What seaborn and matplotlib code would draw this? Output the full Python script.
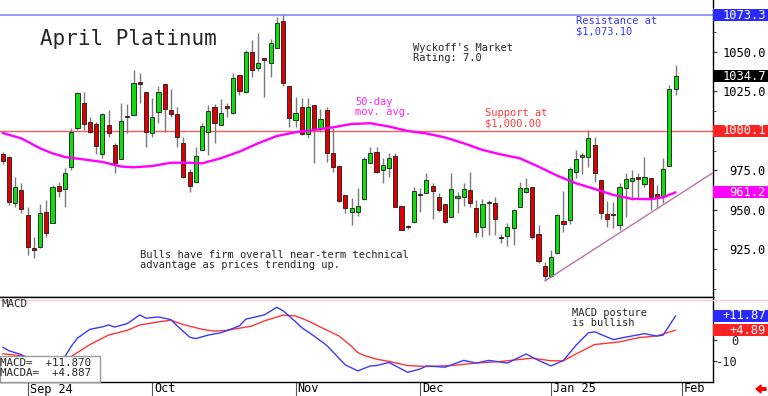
import matplotlib
matplotlib.use("Agg")
import matplotlib.pyplot as plt
import matplotlib.transforms as mtransforms
from matplotlib.patches import Rectangle, FancyArrow
import numpy as np
import pandas as pd
import seaborn as sns

# daily candles, Aug 27 2024 .. Jan 31 2025 (trading-day index 0..108)
opens = [985.4, 983.5, 954.4, 962.7, 947.0, 926.0, 926.6, 948.7, 941.8, 965.0,
         963.0, 977.0, 1002.0, 1017.7, 1005.7, 1004.4, 985.4, 1003.8, 991.0, 982.0,
         1009.5, 1010.0, 1031.0, 1024.7, 998.7, 1012.0, 1029.7, 1013.0, 1010.8, 992.4,
         974.0, 967.7, 988.0, 999.4, 1015.0, 1003.8, 1015.8, 1011.4, 1035.4, 1024.7,
         1050.0, 1040.0, 1046.0, 1043.0, 1052.5, 1069.6, 1028.5, 1007.0, 1015.0, 998.0,
         1016.5, 1002.0, 1013.0, 986.0, 977.8, 959.5, 948.7, 948.7, 957.0, 980.0,
         986.7, 975.3, 976.6, 984.0, 952.5, 940.0, 942.4, 959.5, 960.8, 965.0,
         958.0, 953.8, 945.6, 957.6, 958.0, 962.7, 951.3, 939.3, 954.4, 954.4,
         933.0, 933.5, 938.6, 952.0, 961.2, 964.6, 934.8, 914.6, 908.2, 922.8,
         943.0, 943.7, 974.0, 983.5, 983.5, 991.0, 969.0, 947.5, 947.5, 940.5,
         964.0, 968.4, 971.0, 966.5, 970.2, 960.0, 958.8, 977.8, 1026.6]
highs = [986.7, 984.0, 971.0, 967.0, 952.0, 933.0, 954.0, 956.0, 965.8, 967.7,
         976.6, 1002.0, 1024.7, 1024.7, 1009.0, 1005.7, 1011.4, 1013.0, 992.4, 1017.7,
         1017.0, 1038.6, 1037.0, 1024.7, 1021.0, 1028.5, 1029.7, 1026.6, 1015.0, 996.0,
         976.0, 990.0, 1005.0, 1016.5, 1017.0, 1020.0, 1018.0, 1036.7, 1035.4, 1051.0,
         1057.6, 1062.0, 1046.0, 1058.0, 1072.0, 1073.4, 1028.5, 1021.5, 1021.0, 1021.0,
         1016.5, 1014.0, 1015.0, 1002.0, 977.8, 959.5, 957.6, 964.0, 983.5, 990.0,
         990.0, 983.0, 986.0, 986.0, 952.5, 940.5, 964.6, 964.0, 973.4, 967.0,
         960.8, 953.8, 973.4, 961.4, 967.0, 974.0, 956.3, 957.0, 956.0, 958.0,
         935.0, 941.8, 950.6, 967.7, 970.0, 964.6, 940.5, 917.0, 924.7, 947.5,
         962.0, 977.0, 988.0, 986.0, 1000.6, 996.0, 969.0, 955.7, 955.0, 967.0,
         973.4, 975.3, 973.4, 983.5, 970.2, 965.8, 983.0, 1029.0, 1041.8]
lows = [979.0, 953.0, 952.0, 948.0, 921.5, 919.6, 926.0, 933.0, 941.8, 958.0,
        952.0, 975.0, 1000.6, 1000.6, 998.7, 985.4, 983.0, 996.0, 973.4, 982.0,
        998.7, 1010.0, 1017.7, 990.0, 996.0, 1005.0, 999.4, 1009.0, 990.0, 970.0,
        961.4, 967.7, 988.0, 985.0, 992.4, 1003.8, 1009.0, 1010.8, 1022.8, 1024.0,
        1034.0, 1038.0, 1021.5, 1034.0, 1052.5, 1028.5, 1002.5, 1002.5, 997.5, 995.6,
        979.7, 999.4, 980.4, 974.0, 955.0, 948.0, 940.5, 946.0, 956.0, 979.7,
        973.4, 967.0, 971.0, 952.0, 937.0, 938.0, 941.8, 948.7, 960.8, 944.0,
        948.7, 942.0, 945.6, 948.0, 952.5, 952.0, 933.0, 933.0, 934.0, 934.0,
        929.0, 927.0, 927.8, 952.0, 961.0, 931.6, 916.5, 905.7, 907.6, 922.8,
        936.0, 941.0, 970.0, 973.0, 977.0, 967.7, 944.3, 939.3, 938.6, 937.3,
        945.6, 956.3, 957.0, 964.6, 950.0, 951.3, 954.4, 977.8, 1022.8]
closes = [981.0, 955.0, 964.6, 950.6, 926.6, 924.7, 948.0, 935.4, 964.6, 962.0,
          973.4, 999.4, 1024.0, 1004.4, 999.4, 990.5, 1010.8, 998.7, 979.7, 1006.0,
          1008.9, 1030.4, 1029.7, 999.4, 1008.9, 1024.7, 1014.0, 1010.8, 996.0, 971.0,
          965.0, 984.0, 1003.0, 1012.7, 1005.0, 1011.4, 1014.5, 1033.5, 1025.3, 1050.0,
          1038.6, 1043.0, 1045.0, 1055.7, 1068.4, 1030.4, 1008.2, 1011.4, 998.0, 1015.0,
          1000.6, 1007.6, 986.0, 977.0, 955.7, 951.3, 951.3, 952.5, 982.0, 986.0,
          974.0, 978.5, 983.0, 952.0, 937.3, 939.3, 962.0, 959.8, 969.0, 962.0,
          950.0, 942.4, 963.3, 959.0, 963.3, 954.4, 936.0, 953.8, 954.6, 944.3,
          932.3, 939.3, 950.0, 964.0, 964.0, 933.0, 917.7, 908.2, 920.2, 946.8,
          941.0, 976.0, 982.0, 984.5, 995.6, 973.4, 948.0, 944.3, 946.8, 964.6,
          969.6, 970.2, 969.6, 971.0, 958.0, 958.0, 976.0, 1026.6, 1034.7]

# 50-day moving average, read at sampled days
ma_days = [0, 3, 6, 8, 10, 13, 16, 19, 21, 24, 27, 30, 32, 35, 38, 41, 44, 47, 50,
           53, 56, 59, 62, 65, 68, 71, 74, 77, 80, 83, 86, 89, 92, 95, 98, 101,
           104, 106, 108]
ma_values = [998.7, 995.3, 989.0, 985.8, 983.5, 982.0, 980.4, 977.5, 977.0, 977.8,
             979.9, 979.9, 979.5, 982.7, 986.9, 992.2, 996.8, 999.2, 1000.6, 1002.3,
             1004.4, 1004.9, 1002.8, 1000.0, 998.4, 995.9, 992.2, 988.0, 985.1, 982.7,
             977.4, 971.7, 966.9, 963.3, 959.5, 957.0, 956.8, 958.0, 961.2]

# MACD (blue) and its average (red)
macd_days = [0, 1, 3, 5, 7, 9, 10, 11, 12, 14, 16, 17, 18, 20, 22, 23, 25, 27, 28,
             30, 31, 33, 35, 37, 38, 39, 42, 44, 45, 47, 48, 50, 52, 55, 57, 59, 60,
             62, 65, 67, 68, 71, 74, 76, 78, 81, 84, 86, 88, 90, 92, 94, 95, 98, 100,
             103, 105, 106, 108]
macd_values = [-3.4, -5.1, -7.0, -11.0, -13.0, -11.0, -7.9, -3.0, 1.0, 5.3, 6.5, 7.4,
               6.4, 8.1, 12.3, 10.7, 11.3, 10.0, 7.0, 1.5, 0.8, 2.5, 3.6, 5.8, 7.0,
               10.2, 12.3, 16.0, 14.3, 9.0, 6.1, 2.0, -2.5, -12.0, -14.9, -12.5, -12.3,
               -10.8, -15.6, -14.0, -12.5, -13.1, -9.8, -11.1, -9.8, -11.1, -6.7, -9.8,
               -12.5, -9.8, -2.5, 3.6, 4.1, 0.3, 1.5, 3.2, 2.0, 2.5, 11.87]
signal_days = [0, 3, 6, 9, 11, 14, 17, 20, 22, 25, 27, 29, 32, 34, 36, 40, 42, 45, 47,
               49, 51, 54, 56, 57, 58, 60, 62, 65, 68, 72, 76, 80, 85, 88, 90, 92, 95,
               99, 102, 105, 108]
signal_values = [-6.6, -7.5, -9.0, -9.0, -7.9, -2.1, 2.5, 4.8, 7.4, 8.9, 9.7, 7.6, 5.3,
                 4.4, 4.8, 6.9, 9.4, 12.2, 11.8, 9.4, 6.4, 2.0, -3.0, -6.0, -7.4, -9.2,
                 -10.3, -12.3, -12.8, -12.3, -11.1, -10.3, -8.7, -10.0, -10.0, -6.7,
                 -2.1, -0.8, 1.2, 2.1, 4.887]
macd_last = 11.870

month_days = [4, 24, 47, 67, 88, 109]
month_labels = ["Sep 24", "Oct", "Nov", "Dec", "Jan 25", "Feb"]
price_ticks = [925, 950, 975, 1025, 1050]
macd_ticks = [-10, 0, 10]
macd_tick_labels = ["-10", "0", ""]

support = 1000.0
resistance = 1073.3
trend_days = [87, 114]
trend_values = [905.0, 973.6]

sns.set_theme(style="white")
plt.rcParams["font.family"] = ["DejaVu Sans Mono", "DejaVu Sans"]

W, H = 768, 396
fig = plt.figure(figsize=(W / 100, H / 100), dpi=100)


def fx(px):
    return px / W


def fy(py):
    return 1 - py / H


ax = fig.add_axes([0, fy(297), fx(713), 297 / H])
axm = fig.add_axes([0, fy(382), fx(713), 85 / H])

candles = pd.DataFrame({"day": np.arange(len(opens)), "open": opens, "high": highs,
                        "low": lows, "close": closes})
up = candles["close"] >= candles["open"]
body_lo = candles[["open", "close"]].min(axis=1)
body_h = (candles["close"] - candles["open"]).abs().clip(lower=0.7)

ax.axhline(resistance, color="#9a9af5", lw=1.4, zorder=1)
ax.axhline(support, color="#ff5a5a", lw=1.0, zorder=1)
ax.vlines(candles["day"], candles["low"], candles["high"], color="#7a7a7a", lw=1.0, zorder=2)
ax.bar(candles["day"], body_h, bottom=body_lo, width=0.66,
       color=np.where(up, "#10dc10", "#dc0000"), edgecolor="#1a1a1a", linewidth=0.6, zorder=3)
sns.lineplot(x=ma_days, y=ma_values, ax=ax, color="#ff00ff", linewidth=1.7, zorder=4)
ax.plot(trend_days, trend_values, color="#b8739f", lw=1.0, zorder=4)

ax.set_xlim(-0.43, 114.0)
ax.set_ylim(894.9, 1082.9)
ax.set_xticks([])
ax.yaxis.tick_right()
ax.set_yticks(price_ticks)
ax.set_yticklabels([f"{v:.1f}" for v in price_ticks])
ax.set_yticks(np.arange(900, 1081, 12.5), minor=True)
ax.tick_params(axis="y", which="major", direction="out", length=3, width=0.8,
               color="#333333", pad=35, labelsize=8.7, labelcolor="black", right=True)
ax.tick_params(axis="y", which="minor", direction="out", length=2, width=0.6,
               color="#333333", right=True)
for t in ax.get_yticklabels():
    t.set_horizontalalignment("right")
for s in ["left", "top"]:
    ax.spines[s].set_visible(False)
for s in ["right", "bottom"]:
    ax.spines[s].set_color("black")
    ax.spines[s].set_linewidth(1.0)
ax.set_xlabel("")
ax.set_ylabel("")

# MACD panel
sns.lineplot(x=signal_days, y=signal_values, ax=axm, color="#ff3535", linewidth=1.0)
sns.lineplot(x=macd_days, y=macd_values, ax=axm, color="#3a3aff", linewidth=1.0)
axm.set_xlim(-0.43, 114.0)
axm.set_ylim(-20.3, 21.0)
axm.set_xticks(month_days)
axm.set_xticklabels([])
axm.tick_params(axis="x", direction="out", length=10, width=0.8, color="#555555", bottom=True)
axm.yaxis.tick_right()
axm.set_yticks(macd_ticks)
axm.set_yticklabels(macd_tick_labels)
axm.tick_params(axis="y", direction="out", length=3, width=0.8, color="#333333",
                pad=15, labelsize=8.7, right=True)
for t in axm.get_yticklabels():
    t.set_horizontalalignment("right")
axm.spines["left"].set_visible(False)
for s in ["right", "bottom", "top"]:
    axm.spines[s].set_color("black")
    axm.spines[s].set_linewidth(1.0)
axm.set_xlabel("")
axm.set_ylabel("")

xlab = mtransforms.blended_transform_factory(axm.transData, fig.transFigure)
for d, lab in zip(month_days, month_labels):
    axm.text(d + 0.35, fy(389), lab, transform=xlab, ha="left", va="center",
             fontsize=8.6, color="black", clip_on=False)

fig.add_artist(plt.Line2D([0, 1], [fy(300), fy(300)], transform=fig.transFigure,
                          color="#ffc8c8", lw=1.0))


# right-hand value boxes
def value_box(axis, value, text, color, h):
    tr = mtransforms.blended_transform_factory(fig.transFigure, axis.transData)
    fig.add_artist(Rectangle((fx(713), value - h / 2), 1 - fx(713), h, transform=tr,
                             facecolor=color, edgecolor="none", zorder=5))
    fig.text(fx(766), value, text, transform=tr, ha="right", va="center",
             color="white", fontsize=8.7, zorder=6)


value_box(ax, resistance, "1073.3", "#2a2aff", 7.6)
value_box(ax, closes[-1], f"{closes[-1]:.1f}", "#000000", 7.6)
value_box(ax, support + 0.1, "1000.1", "#ff2222", 7.6)
value_box(ax, ma_values[-1], f"{ma_values[-1]:.1f}", "#ff00ff", 7.6)
value_box(axm, macd_values[-1], f"+{macd_values[-1]:.2f}", "#2a2aff", 5.9)
value_box(axm, signal_values[-1], f"+{signal_values[-1]:.2f}", "#ff2222", 5.9)

# annotations
fig.text(fx(40), fy(39), "April Platinum", fontsize=15, va="center", ha="left")
fig.text(fx(413), fy(43), "Wyckoff's Market\nRating: 7.0", fontsize=7.5, va="top",
         linespacing=1.0)
fig.text(fx(576), fy(16), "Resistance at\n$1,073.10", fontsize=7.5, va="top",
         color="#3535ff", linespacing=1.0)
fig.text(fx(355), fy(97), "50-day\nmov. avg.", fontsize=7.5, va="top",
         color="#ff22ff", linespacing=1.0)
fig.text(fx(485), fy(108), "Support at\n$1,000.00", fontsize=7.5, va="top",
         color="#ff3a3a", linespacing=1.0)
fig.text(fx(140), fy(250), "Bulls have firm overall near-term technical\n"
         "advantage as prices trending up.", fontsize=7.5, va="top", linespacing=1.0)
fig.text(fx(572), fy(308), "MACD posture\nis bullish", fontsize=7.5, va="top",
         linespacing=1.0)
fig.text(fx(1), fy(299), "MACD", fontsize=7.8, va="top")

fig.add_artist(Rectangle((0, fy(382)), fx(100), (382 - 356) / H, transform=fig.transFigure,
                         facecolor="white", edgecolor="#9a9a9a", lw=1.0, zorder=5))
fig.text(fx(0), fy(358), f"MACD=  +{macd_last:.3f}\nMACDA=  +{signal_values[-1]:.3f}",
         fontsize=7.8, va="top", ha="left", linespacing=1.0, zorder=6)

fig.add_artist(FancyArrow(fx(766), fy(389), -fx(10), 0, width=2.5 / H, head_width=8 / H,
                          head_length=fx(5), length_includes_head=True,
                          transform=fig.transFigure, color="#ff0000"))

fig.savefig("out.png", dpi=100)
